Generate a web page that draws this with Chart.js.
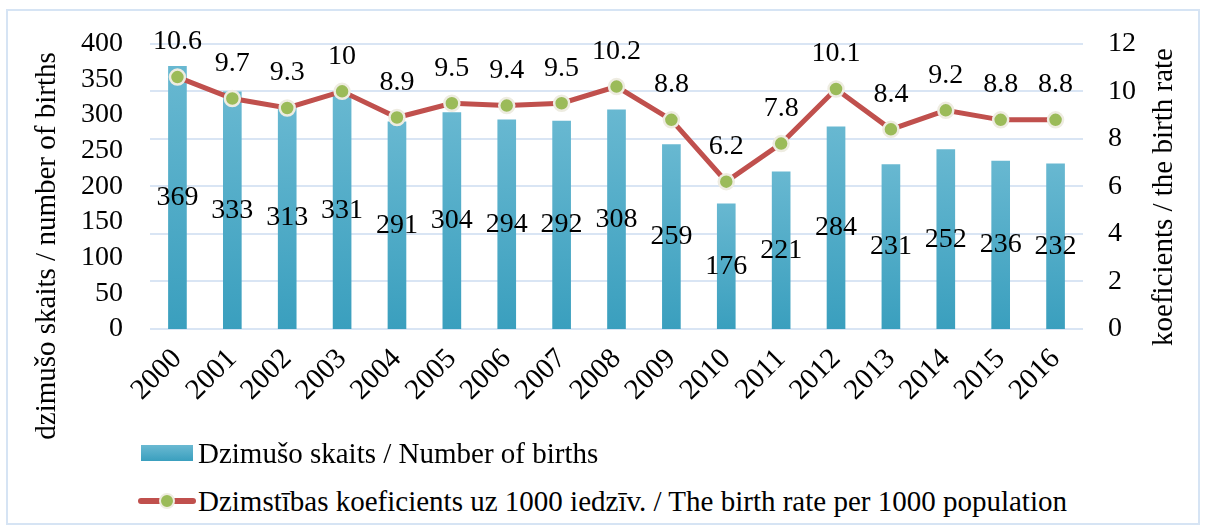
<!DOCTYPE html>
<html>
<head>
<meta charset="utf-8">
<script src="https://cdn.jsdelivr.net/npm/chart.js@4.4.0/dist/chart.umd.min.js"></script>
<style>
  html, body { margin: 0; padding: 0; background: #fff; }
  body { width: 1206px; height: 532px; position: relative; overflow: hidden; font-family: "Liberation Serif", serif; }
  #frame { position: absolute; left: 6px; top: 9px; width: 1194px; height: 516px; border: 2px solid #d6e4f4; box-sizing: border-box; }
  #wrap { position: absolute; left: 0; top: 0; width: 1206px; height: 460px; }
  .legend-row { position: absolute; display: flex; align-items: center; height: 32px; font-size: 29px; color: #000; white-space: nowrap; }
  .box-icon { width: 52px; height: 16px; background: linear-gradient(#6ab9d2, #3a9fbe); margin-left: 3px; margin-right: 5px; }
  .line-icon { position: relative; width: 58px; height: 16px; margin-right: 2px; }
  .line-icon .bar { position: absolute; left: 0; right: 0; top: 5px; height: 6px; border-radius: 3px; background: #c0504d; }
  .line-icon .dot { position: absolute; left: 21px; top: 0; width: 12px; height: 12px; border-radius: 50%; background: #9bbb59; border: 2px solid #eeece1; }
</style>
</head>
<body>
<div id="frame"></div>
<div id="wrap"><canvas id="birthChart"></canvas></div>
<div class="legend-row" style="left:138px; top:437px;"><span class="box-icon"></span><span>Dzimušo skaits / Number of births</span></div>
<div class="legend-row" style="left:138px; top:485px;"><span class="line-icon"><span class="bar"></span><span class="dot"></span></span><span>Dzimstības koeficients uz 1000 iedzīv. / The birth rate per 1000 population</span></div>
<script>
const years = ["2000", "2001", "2002", "2003", "2004", "2005", "2006", "2007", "2008", "2009", "2010", "2011", "2012", "2013", "2014", "2015", "2016"];
const births = [369, 333, 313, 331, 291, 304, 294, 292, 308, 259, 176, 221, 284, 231, 252, 236, 232];
const birthRate = [10.6, 9.7, 9.3, 10, 8.9, 9.5, 9.4, 9.5, 10.2, 8.8, 6.2, 7.8, 10.1, 8.4, 9.2, 8.8, 8.8];
const birthsAxis = { min: 0, max: 400, step: 50 };
const rateAxis = { min: 0, max: 12, step: 2 };

const leftTitle = "dzimušo skaits / number of births";
const rightTitle = "koeficients / the birth rate";
const serif = "Liberation Serif";

Chart.defaults.font.family = serif;
Chart.defaults.color = "#000";

// each bar gets its own light-to-dark gradient, like the original
function barFill(context) {
  const chart = context.chart;
  const scale = chart.scales.yBirths;
  if (!chart.chartArea || !scale || context.dataIndex === undefined) return "#4bacc6";
  const top = scale.getPixelForValue(births[context.dataIndex]);
  const bottom = scale.getPixelForValue(0);
  const g = chart.ctx.createLinearGradient(0, top, 0, bottom);
  g.addColorStop(0, "#68b8d1");
  g.addColorStop(1, "#3a9fbe");
  return g;
}

const valueLabels = {
  id: "valueLabels",
  afterDatasetsDraw(chart) {
    const ctx = chart.ctx;
    ctx.save();
    ctx.fillStyle = "#000";
    ctx.font = `28px "${serif}"`;
    ctx.textAlign = "center";
    ctx.textBaseline = "middle";
    chart.getDatasetMeta(1).data.forEach((bar, i) => {
      ctx.fillText(String(births[i]), bar.x, (bar.y + bar.base) / 2);
    });
    chart.getDatasetMeta(0).data.forEach((pt, i) => {
      ctx.fillText(String(birthRate[i]), pt.x, pt.y - 35);
    });
    ctx.restore();
  },
};

function drawVertical(ctx, text, x, y) {
  ctx.save();
  ctx.fillStyle = "#000";
  ctx.font = `29px "${serif}"`;
  ctx.textAlign = "center";
  ctx.textBaseline = "middle";
  ctx.translate(x, y);
  ctx.rotate(-Math.PI / 2);
  ctx.fillText(text, 0, 0);
  ctx.restore();
}

const axisTitles = {
  id: "axisTitles",
  afterDraw(chart) {
    drawVertical(chart.ctx, leftTitle, 47, 246);
    drawVertical(chart.ctx, rightTitle, 1164, 197);
  },
};

new Chart(document.getElementById("birthChart"), {
  type: "bar",
  data: {
    labels: years,
    datasets: [
      {
        type: "line",
        label: "Dzimstības koeficients uz 1000 iedzīv. / The birth rate per 1000 population",
        data: birthRate,
        yAxisID: "yRate",
        borderColor: "#c0504d",
        borderWidth: 5,
        tension: 0,
        pointRadius: 7.5,
        pointBackgroundColor: "#9bbb59",
        pointBorderColor: "#eeece1",
        pointBorderWidth: 2.5,
        order: 0,
      },
      {
        label: "Dzimušo skaits / Number of births",
        data: births,
        yAxisID: "yBirths",
        backgroundColor: barFill,
        barPercentage: 0.34,
        categoryPercentage: 1,
        order: 1,
      },
    ],
  },
  options: {
    responsive: true,
    maintainAspectRatio: false,
    animation: false,
    layout: { padding: { top: 38, left: 0, right: 0, bottom: 0 } },
    plugins: {
      legend: { display: false },
      tooltip: { enabled: false },
    },
    scales: {
      x: {
        grid: { display: false, drawTicks: false },
        border: { display: false },
        ticks: {
          color: "#000",
          font: { family: serif, size: 29 },
          maxRotation: 45,
          minRotation: 45,
          autoSkip: false,
          padding: 13,
        },
        afterFit(scale) { scale.height = 131; },
      },
      yBirths: {
        position: "left",
        min: birthsAxis.min,
        max: birthsAxis.max,
        grid: { display: false, drawTicks: false },
        border: { display: false },
        ticks: {
          stepSize: birthsAxis.step,
          autoSkip: false,
          color: "#000",
          font: { family: serif, size: 28 },
          padding: 27,
        },
        afterFit(scale) { scale.width = 150; },
      },
      yRate: {
        position: "right",
        min: rateAxis.min,
        max: rateAxis.max,
        grid: { display: true, drawTicks: false, color: "#d9e5f4", lineWidth: 2 },
        border: { display: false },
        ticks: {
          stepSize: rateAxis.step,
          autoSkip: false,
          color: "#000",
          font: { family: serif, size: 28 },
          padding: 25,
        },
        afterFit(scale) { scale.width = 123; },
      },
    },
  },
  plugins: [valueLabels, axisTitles],
});
</script>
</body>
</html>
